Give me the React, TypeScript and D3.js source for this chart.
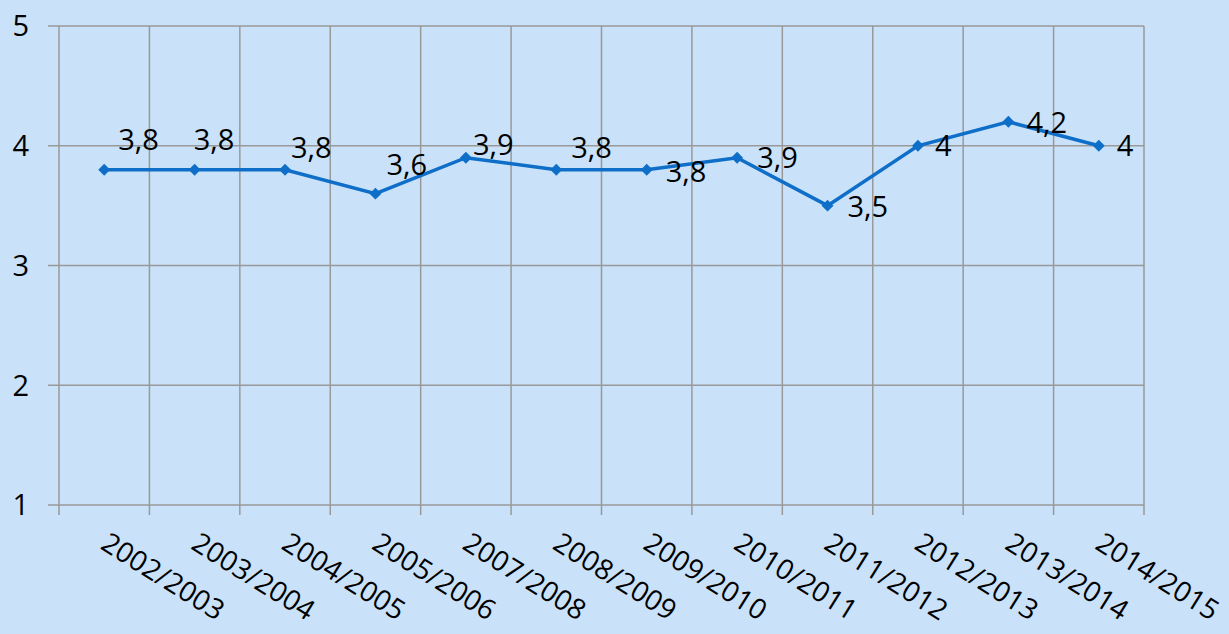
import React from 'react';
import * as d3 from 'd3';

const seasons = [
  '2002/2003', '2003/2004', '2004/2005', '2005/2006', '2007/2008', '2008/2009',
  '2009/2010', '2010/2011', '2011/2012', '2012/2013', '2013/2014', '2014/2015'
];
const values = [3.8, 3.8, 3.8, 3.6, 3.9, 3.8, 3.8, 3.9, 3.5, 4, 4.2, 4];
const yTicks = [1, 2, 3, 4, 5];
// where Excel placed each data label, relative to its point
const labelOffsets = [
  [14, -20], [-1, -20], [6, -12], [11, -19], [7, -3], [15, -12],
  [19, 12], [20, 10], [20, 11], [17, 10], [18, 11], [18, 10]
];

const width = 1229;
const height = 634;
const margin = { top: 26, right: 85, bottom: 129, left: 59 };
const font = '"Open Sans", sans-serif';
const blue = '#0e6ec8';
const grid = '#999999';

export default function App() {
  const x = d3.scaleBand()
    .domain(seasons)
    .range([margin.left, width - margin.right]);
  const y = d3.scaleLinear()
    .domain([1, 5])
    .range([height - margin.bottom, margin.top]);

  const line = d3.line<number>()
    .x((d, i) => x(seasons[i])! + x.bandwidth() / 2)
    .y((d) => y(d));

  const diamond = d3.symbol().type(d3.symbolDiamond2).size(90)();
  const bounds = [...seasons.map((s) => x(s)!), width - margin.right];
  const fmt = (v: number) => String(v).replace('.', ',');

  return (
    <svg
      width={width}
      height={height}
      style={{ position: 'absolute', left: 0, top: 0, background: '#c9e2f9' }}
    >
      <rect width={width} height={height} fill="#c9e2f9" />
      <g>
        {yTicks.map((t) => (
          <line key={t} x1={margin.left - 11} x2={width - margin.right}
            y1={y(t)} y2={y(t)} stroke={grid} strokeWidth={1.5} />
        ))}
        {bounds.map((b, i) => (
          <line key={i} x1={b} x2={b} y1={margin.top} y2={y(1) + 10}
            stroke={grid} strokeWidth={1.5} />
        ))}
      </g>
      <g fontFamily={font} fontSize={29} fill="#000">
        {yTicks.map((t) => (
          <text key={t} x={29} y={y(t)} dy="0.36em" textAnchor="end">{t}</text>
        ))}
      </g>
      <g fontFamily={font} fontSize={28} fill="#000">
        {seasons.map((s) => {
          const cx = x(s)! + x.bandwidth() / 2 - 5;
          const cy = 548;
          return (
            <text key={s} x={cx} y={cy} transform={`rotate(32,${cx},${cy})`}>{s}</text>
          );
        })}
      </g>
      <path d={line(values)!} fill="none" stroke={blue} strokeWidth={3.5} />
      {values.map((v, i) => (
        <path key={i} d={diamond}
          transform={`translate(${x(seasons[i])! + x.bandwidth() / 2},${y(v)})`}
          fill={blue} />
      ))}
      <g fontFamily={font} fontSize={29} fill="#000">
        {values.map((v, i) => (
          <text key={i}
            x={x(seasons[i])! + x.bandwidth() / 2 + labelOffsets[i][0]}
            y={y(v) + labelOffsets[i][1]}>
            {fmt(v)}
          </text>
        ))}
      </g>
    </svg>
  );
}
